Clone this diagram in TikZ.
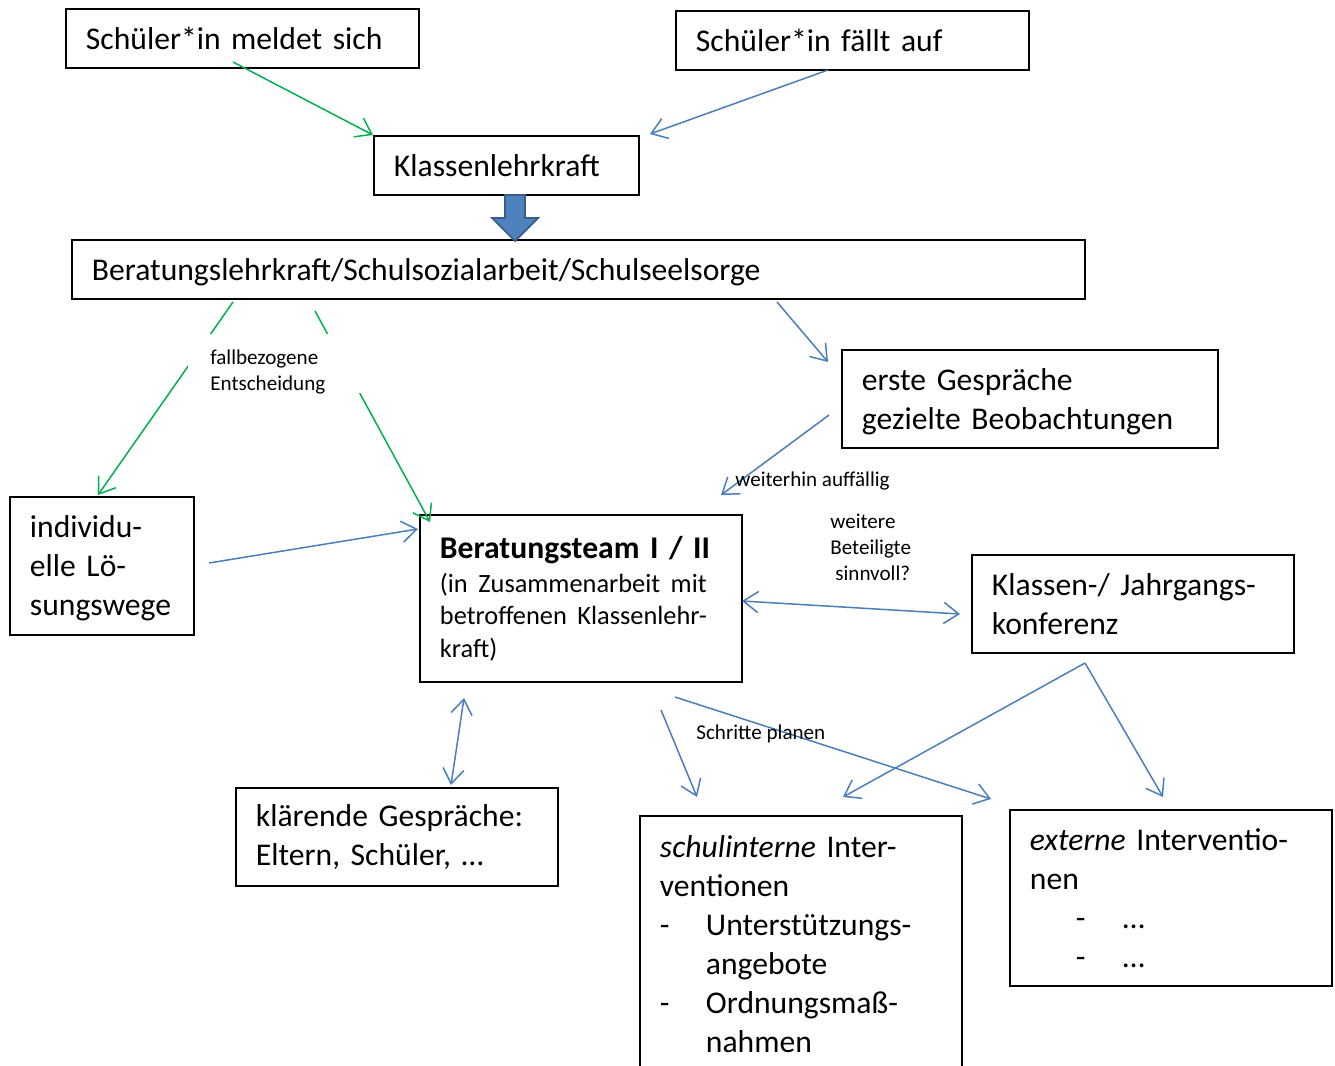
\documentclass[tikz,border=0pt]{standalone}
\usepackage{fontspec}
\setmainfont{Carlito}
\usepackage{tikz}
\usetikzlibrary{arrows.meta}
\definecolor{lgreen}{RGB}{0,176,80}
\definecolor{lblue}{RGB}{74,126,187}
\definecolor{bfill}{RGB}{79,129,189}
\definecolor{bedge}{RGB}{56,93,138}
\def\px{0.02cm}
\tikzset{>/.tip={Straight Barb[length=8.5pt,width=12pt]},
  box/.style={draw, line width=1.1pt, anchor=north west, inner xsep=20*\px, inner ysep=0pt,
    align=left, font=\fontsize{18}{22.2}\selectfont},
  lab/.style={font=\fontsize{12}{14.8}\selectfont, inner sep=0pt, align=left},
  gl/.style={->, lgreen, line width=0.85pt},
  bl/.style={->, lblue, line width=0.85pt}}

\begin{document}
\begin{tikzpicture}[x=0.02cm, y=-0.02cm]
\clip (0,0) rectangle (1335,1065);
\fill[white] (0,0) rectangle (1335,1065);

\node[box, text width=313*\px, minimum height=59*\px] (meldet) at (65,8) {Schüler*in meldet sich};
\node[box, text width=313*\px, minimum height=59*\px] (faellt) at (675,10) {Schüler*in fällt auf};
\node[box, text width=225*\px, minimum height=59*\px] (klass) at (373,135) {Klassenlehrkraft};
\node[box, text width=973*\px, minimum height=59*\px, text height=16pt, text depth=4pt] (berat) at (71,239) {Beratungslehrkraft/Schulsozialarbeit/Schulseelsorge};
\node[box, text width=336*\px, minimum height=98*\px] (erste) at (841,349) {\strut erste Gespräche\\gezielte Beobachtungen};
\node[box, text width=144*\px, minimum height=138*\px] (indiv) at (9,496) {\strut individu-\\elle Lö-\\sungswege};
\node[box, text width=282*\px, minimum height=167*\px] (team) at (419,514)
  {\textbf{Beratungsteam I / II}\\[1pt]\fontsize{15}{18.5}\selectfont (in Zusammenarbeit mit\\betroffenen Klassenlehr-\\[-3.7pt]kraft)};
\node[box, text width=282*\px, minimum height=98*\px] (konf) at (971,554) {Klassen-/ Jahrgangs-\\konferenz};
\node[box, text width=282*\px, minimum height=98*\px] (klaer) at (235,787) {klärende Gespräche:\\Eltern, Schüler, \dots};
\node[box, text width=282*\px, minimum height=256*\px, align=left] (intern) at (639,815)
  {\textit{schulinterne} Inter-\\ventionen\\\makebox[0.92cm][l]{-}Unterstützungs-\\\hspace*{0.92cm}angebote\\\makebox[0.92cm][l]{-}Ordnungsmaß-\\\hspace*{0.92cm}nahmen\\[1.24cm]};
\node[box, text width=282*\px, minimum height=176*\px] (extern) at (1009,809)
  {\textit{externe} Interventio-\\nen\\\hspace*{0.92cm}\makebox[0.94cm][l]{-}\dots\\\hspace*{0.92cm}\makebox[0.94cm][l]{-}\dots};

% block arrow
\coordinate (kb) at (515,195);
\draw[fill=bfill, draw=bedge, line width=1pt] (kb) -- ++(10,0) -- ++(0,23) -- ++(13,0) -- ++(-23,23)
  -- ++(-23,-23) -- ++(13,0) -- ++(0,-23) -- cycle;

% free ends
\coordinate (m1) at (233,62);
\coordinate (f1) at (828,70);
\coordinate (k1) at (650,134);
\coordinate (b1) at (233,302);
\coordinate (i1) at (98,495);
\coordinate (b2) at (315,311);
\coordinate (t1) at (430,522);
\coordinate (b3) at (777,302);
\coordinate (e1) at (828,362);
\coordinate (e2) at (829,415);
\coordinate (t2) at (721,495);
\coordinate (i2) at (209,563);
\coordinate (t3) at (418,529);
\coordinate (t4) at (742,601);
\coordinate (k2) at (960,614);
\coordinate (t5) at (464,698);
\coordinate (g1) at (451,785);
\coordinate (t6) at (661,710);
\coordinate (s1) at (697,797);
\coordinate (t7) at (675,697);
\coordinate (x1) at (991,799);
\coordinate (k3) at (1085,663);
\coordinate (s2) at (843,797);
\coordinate (x2) at (1163,797);

\draw[gl] (m1) -- (klass.north west);
\draw[bl] (f1) -- (k1);
\draw[gl] (b1) -- (i1);
\draw[gl] (b2) -- (t1);
\draw[bl] (b3) -- (e1);
\draw[bl] (e2) -- (t2);
\draw[bl] (i2) -- (t3);
\draw[bl, <->] (t4) -- (k2);
\draw[bl, <->] (t5) -- (g1);
\draw[bl] (t6) -- (s1);
\draw[bl] (t7) -- (x1);
\draw[bl] (k3) -- (s2);
\draw[bl] (k3) -- (x2);

% labels
\fill[white] (188,334) rectangle (362,393);
\node[lab, anchor=west] (entsch) at (210,372) {fallbezogene\\Entscheidung};
\node[lab, anchor=west] (auff) at (735,481) {weiterhin auffällig};
\node[lab, anchor=west] (weit) at (830,547) {weitere\\Beteiligte\\\hspace*{0.1cm}sinnvoll?};
\node[lab, anchor=west] (plan) at (696,734) {Schritte planen};
\end{tikzpicture}
\end{document}
